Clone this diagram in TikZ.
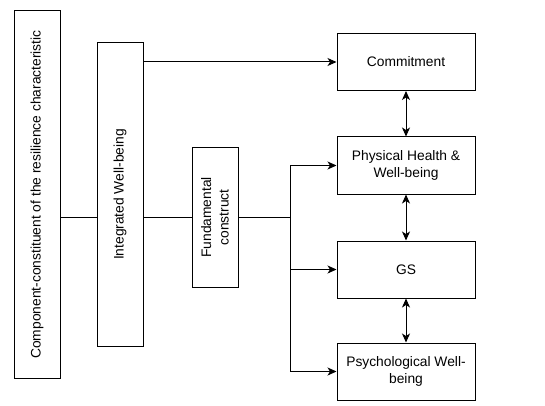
\documentclass[tikz,border=0pt]{standalone}
\usepackage{fontspec}
\setmainfont{Liberation Sans}
\usetikzlibrary{arrows.meta,positioning}

\begin{document}
\begin{tikzpicture}[x=1pt,y=-1pt,line width=1pt,
    font=\fontsize{13.8}{17.5}\selectfont,
    >={Stealth[length=9pt,width=8pt,inset=2.5pt]}]
      \useasboundingbox (0,0) rectangle (545,406);
      \begin{scope}[every node/.style={draw,rotate=90,align=center,inner sep=2pt}]
        % rotated boxes: minimum width is the vertical size
        \node (comp) [minimum width=368pt,minimum height=46pt] at (37,194.5) {Component-constituent of the resilience characteristic};
        \node (integ) [minimum width=304pt,minimum height=46pt] at (120,194.5) {Integrated Well-being};
        \node (fund) [minimum width=139pt,minimum height=46pt] at (215,217.5) {Fundamental\\construct};
      \end{scope}
      \begin{scope}[every node/.style={draw,align=center,minimum width=138pt,minimum height=57pt}]
        \node (commit) at (406,62) {Commitment};
        \node (phys) at (406,165.5) {Physical Health \&\\Well-being};
        \node (gs) at (406,269.5) {GS};
        \node (psych) at (406,371.5) {Psychological Well-\\being};
      \end{scope}
      \coordinate (split) at (290,217.5);
      \begin{scope}
        \draw (comp.south |- fund.center) -- (integ.north |- fund.center);
        \draw (integ.south |- fund.center) -- (fund.north);
        \draw[->] (integ.south |- commit.west) -- (commit.west);
        \draw (fund.south) -- (split);
        \draw (split |- phys.west) -- (split |- psych.west);
        \foreach \b in {phys,gs,psych}
          \draw[->] (split |- \b.west) -- (\b.west);
        \draw[<->] (commit) -- (phys);
        \draw[<->] (phys) -- (gs);
        \draw[<->] (gs) -- (psych);
      \end{scope}
    \end{tikzpicture}
\end{document}
